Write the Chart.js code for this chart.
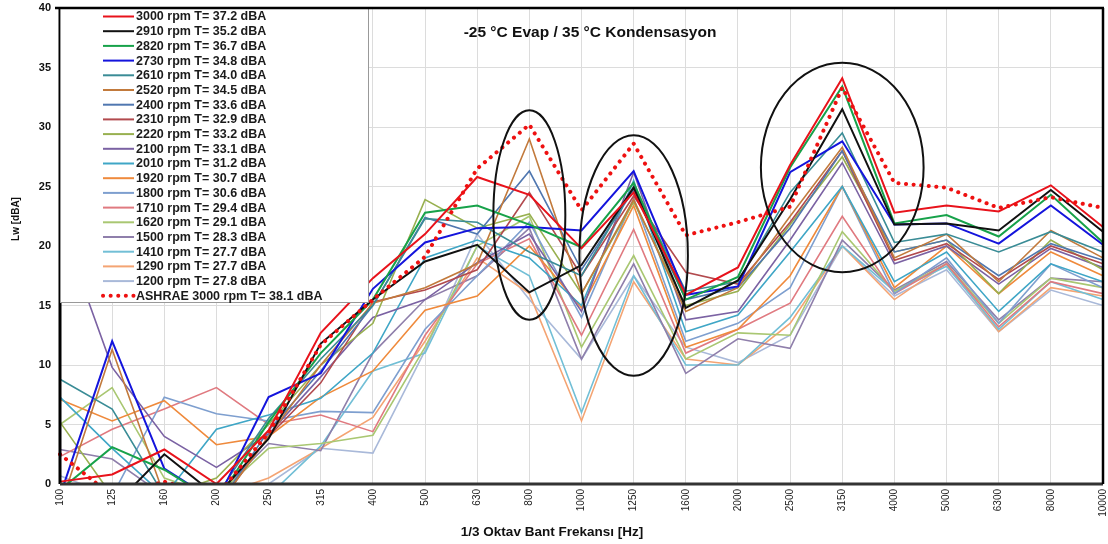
<!DOCTYPE html>
<html>
<head>
<meta charset="utf-8">
<script src="https://cdn.jsdelivr.net/npm/chart.js@4"></script>
<style>
  body { margin: 0; background: #fff; }
  #wrap { width: 1108px; height: 544px; position: relative; }
</style>
</head>
<body>
<div id="wrap"><canvas id="myChart"></canvas></div>
<script>
// frekans bantlari
const bands = ['100','125','160','200','250','315','400','500','630','800','1000','1250','1600','2000','2500','3150','4000','5000','6300','8000','10000'];

const rpm3000 = [0.2, 0.8, 2.9, 0, 4.5, 12.7, 17.3, 21.0, 25.8, 24.3, 19.8, 24.5, 15.9, 18.2, 26.8, 34.1, 22.8, 23.4, 22.9, 25.1, 21.6];
const rpm2910 = [-1.5, -2, 2.5, -1, 3.8, 11.8, 15.5, 18.7, 20.1, 16.1, 18.4, 24.9, 14.8, 17.1, 23.9, 31.5, 21.8, 21.9, 21.3, 24.7, 21.2];
const rpm2820 = [-0.5, 3.1, 1.2, -1.5, 5.2, 11.0, 15.5, 22.8, 23.4, 21.8, 19.9, 25.3, 15.5, 17.4, 26.6, 33.4, 21.9, 22.6, 20.8, 24.3, 20.3];
const rpm2730 = [-1, 12.0, 1.3, -1.5, 7.3, 9.3, 16.4, 20.3, 21.5, 21.6, 21.3, 26.3, 15.9, 16.6, 26.2, 28.8, 21.8, 21.9, 20.2, 23.4, 20.1];
const rpm2610 = [8.8, 6.3, -1, -1, 5.5, 10.5, 15.0, 22.3, 22.0, 19.5, 17.5, 25.0, 16.2, 17.0, 24.5, 29.5, 20.3, 21.0, 19.5, 21.2, 19.5];
const rpm2520 = [-2, 11.3, -1, -2, 4.0, 10.0, 15.2, 16.5, 18.5, 29.0, 16.0, 23.9, 14.5, 16.5, 22.5, 28.3, 19.0, 21.0, 17.0, 21.3, 19.0];
const rpm2400 = [-1, -2, -1, -2, 4.5, 9.5, 15.0, 22.4, 21.0, 26.3, 18.0, 24.7, 15.5, 16.5, 21.5, 28.0, 19.5, 20.5, 17.5, 20.2, 18.8];
const rpm2310 = [-1, -1, -1, -2, 4.0, 8.5, 15.3, 16.3, 18.0, 24.5, 17.5, 24.2, 17.8, 16.8, 22.0, 28.0, 18.8, 20.2, 17.2, 20.0, 18.5];
const rpm2220 = [5.2, -1, -1, 0.5, 5.0, 10.0, 13.5, 23.9, 21.5, 22.7, 16.0, 23.7, 15.0, 16.2, 21.8, 27.5, 19.5, 20.5, 16.0, 20.5, 18.0];
const rpm2100 = [22, 9.8, 4.0, 1.4, 4.2, 9.0, 14.0, 15.5, 18.6, 21.0, 14.5, 26.2, 13.8, 14.5, 20.5, 27.0, 18.5, 20.0, 16.8, 19.8, 18.2];
const rpm2010 = [7.3, 3.0, -1, 4.6, 5.8, 7.2, 11.0, 19.0, 20.5, 19.0, 15.0, 25.5, 12.8, 14.2, 19.5, 25.0, 17.0, 19.5, 14.5, 18.5, 17.0];
const rpm1920 = [7.1, 5.3, 7.0, 3.3, 4.0, 7.3, 9.5, 14.6, 15.8, 20.0, 14.8, 23.4, 11.5, 13.0, 17.5, 25.0, 16.5, 20.0, 16.0, 19.5, 17.5];
const rpm1800 = [-1, -1, 7.3, 5.9, 5.3, 6.1, 6.0, 13.0, 17.5, 22.0, 14.0, 24.0, 12.0, 13.5, 16.5, 25.0, 16.0, 19.0, 13.5, 18.5, 16.5];
const rpm1710 = [2.3, 4.6, 6.3, 8.1, 5.0, 5.8, 4.4, 12.5, 18.5, 20.6, 12.5, 21.4, 11.0, 13.0, 15.2, 22.5, 16.0, 18.5, 13.2, 17.0, 16.0];
const rpm1620 = [5.0, 8.1, 0.5, -1, 3.0, 3.4, 4.1, 11.5, 20.0, 22.5, 11.5, 19.2, 10.5, 12.7, 12.5, 21.2, 16.2, 18.5, 13.5, 17.3, 16.5];
const rpm1500 = [2.9, 2.1, -1, -1, 3.4, 2.8, 11.0, 15.5, 17.5, 21.5, 10.5, 18.5, 9.3, 12.2, 11.4, 20.5, 16.3, 18.7, 13.8, 17.3, 17.0];
const rpm1410 = [-1, -1, -1, -1, -1, 3.2, 9.5, 11.0, 20.0, 17.5, 6.0, 17.5, 10.0, 10.0, 14.0, 20.0, 16.2, 18.3, 13.0, 17.0, 15.5];
const rpm1290 = [-1, -1, -1, -1, 0.5, 3.0, 5.6, 12.0, 19.0, 16.0, 5.3, 17.0, 10.5, 10.0, 13.5, 20.0, 15.5, 18.5, 12.8, 16.5, 15.8];
const rpm1200 = [0.7, -1, -1, -1, 0, 3.0, 2.6, 11.2, 21.0, 15.5, 10.5, 17.5, 11.5, 10.2, 12.5, 20.0, 15.8, 18.0, 12.8, 16.3, 15.0];
const ashrae  = [2.5, -1, 0.2, -1, 4.3, 11.7, 15.5, 19.1, 26.5, 30.2, 23.0, 28.6, 20.9, 22.0, 23.3, 33.3, 25.3, 24.9, 23.2, 24.1, 23.2];

const seriesNames = [
  '3000 rpm T= 37.2 dBA', '2910 rpm T= 35.2 dBA', '2820 rpm T= 36.7 dBA', '2730 rpm T= 34.8 dBA',
  '2610 rpm T= 34.0 dBA', '2520 rpm T= 34.5 dBA', '2400 rpm T= 33.6 dBA', '2310 rpm T= 32.9 dBA',
  '2220 rpm T= 33.2 dBA', '2100 rpm T= 33.1 dBA', '2010 rpm T= 31.2 dBA', '1920 rpm T= 30.7 dBA',
  '1800 rpm T= 30.6 dBA', '1710 rpm T= 29.4 dBA', '1620 rpm T= 29.1 dBA', '1500 rpm T= 28.3 dBA',
  '1410 rpm T= 27.7 dBA', '1290 rpm T= 27.7 dBA', '1200 rpm T= 27.8 dBA', 'ASHRAE 3000 rpm T= 38.1 dBA'
];
const seriesValues = [rpm3000, rpm2910, rpm2820, rpm2730, rpm2610, rpm2520, rpm2400, rpm2310, rpm2220, rpm2100,
  rpm2010, rpm1920, rpm1800, rpm1710, rpm1620, rpm1500, rpm1410, rpm1290, rpm1200, ashrae];
const seriesColors = ['#e8121b', '#111111', '#17a24a', '#1414dc', '#3a8c96', '#c27a3c', '#5077b0', '#b24a4e',
  '#98b050', '#7b62a3', '#3fa6c6', '#ef8a3c', '#7e9fcf', '#e07a80', '#a9c772', '#8f7fab',
  '#72bfd6', '#f4a473', '#a9b9d9', '#ee1111'];

// elipsler: [bant indeksi, deger, yari genislik (bant), yari yukseklik (dBA)]
const ellipses = [[9, 22.6, 0.69, 8.8], [11, 19.2, 1.04, 10.1], [15, 26.6, 1.56, 8.8]];

const datasets = seriesNames.map((name, i) => {
  const isAshrae = i === seriesNames.length - 1;
  return {
    label: name,
    data: seriesValues[i],
    borderColor: seriesColors[i],
    backgroundColor: seriesColors[i],
    borderWidth: isAshrae ? 4 : (i < 4 ? 2 : 1.6),
    borderDash: isAshrae ? [0.1, 7.5] : [],
    borderCapStyle: isAshrae ? 'round' : 'butt',
    pointRadius: 0,
    tension: 0,
    order: isAshrae ? -1 : i
  };
});

// cerceve, elipsler, basliklar ve lejant
const overlay = {
  id: 'overlay',
  afterDatasetsDraw(chart) {
    const { ctx, chartArea: a, scales: { x, y } } = chart;
    ctx.save();

    const unitX = x.getPixelForValue(1) - x.getPixelForValue(0);
    ctx.strokeStyle = '#111';
    ctx.lineWidth = 2;
    ellipses.forEach(e => {
      const cx = x.getPixelForValue(e[0]);
      const cy = y.getPixelForValue(e[1]);
      const ry = y.getPixelForValue(0) - y.getPixelForValue(e[3]);
      ctx.beginPath();
      ctx.ellipse(cx, cy, e[2] * unitX, ry, 0, 0, Math.PI * 2);
      ctx.stroke();
    });

    // frame
    ctx.lineWidth = 3;
    ctx.strokeStyle = '#000';
    ctx.beginPath();
    ctx.moveTo(a.left, a.top); ctx.lineTo(a.left, a.bottom);
    ctx.stroke();
    ctx.strokeStyle = '#333';
    ctx.beginPath();
    ctx.moveTo(a.left, a.bottom); ctx.lineTo(a.right, a.bottom);
    ctx.stroke();
    ctx.strokeStyle = '#000';
    ctx.lineWidth = 2.5;
    ctx.beginPath();
    ctx.moveTo(a.right, a.bottom); ctx.lineTo(a.right, a.top);
    ctx.stroke();

    // basliklar
    ctx.fillStyle = '#111';
    ctx.font = 'bold 15.5px "Liberation Sans", Arial, sans-serif';
    ctx.textAlign = 'center';
    ctx.textBaseline = 'middle';
    ctx.fillText('-25 °C Evap / 35 °C Kondensasyon', 590, 33);
    ctx.font = 'bold 13.5px "Liberation Sans", Arial, sans-serif';
    ctx.fillText('1/3 Oktav Bant Frekansı [Hz]', 552, 532);
    ctx.save();
    ctx.translate(16, 219);
    ctx.rotate(-Math.PI / 2);
    ctx.font = 'bold 10px "Liberation Sans", Arial, sans-serif';
    ctx.fillText('Lw [dBA]', 0, 0);
    ctx.restore();

    // legend
    const lx = a.left, ly = a.top, lw = 308, lh = 294;
    ctx.fillStyle = '#fff';
    ctx.fillRect(lx, ly, lw, lh);
    ctx.strokeStyle = '#999';
    ctx.lineWidth = 1;
    ctx.strokeRect(lx + 0.5, ly + 0.5, lw, lh);
    ctx.font = 'bold 12.5px "Liberation Sans", Arial, sans-serif';
    ctx.textAlign = 'left';
    chart.data.datasets.forEach((ds, i) => {
      const ry = ly + 8.5 + i * 14.7;
      ctx.strokeStyle = ds.borderColor;
      ctx.lineWidth = i === chart.data.datasets.length - 1 ? 4 : 2;
      ctx.setLineDash(ds.borderDash);
      ctx.lineCap = ds.borderCapStyle;
      ctx.beginPath();
      ctx.moveTo(lx + 43, ry); ctx.lineTo(lx + 74, ry);
      ctx.stroke();
      ctx.setLineDash([]);
      ctx.lineCap = 'butt';
      ctx.fillStyle = '#1a1a1a';
      ctx.fillText(ds.label, lx + 76, ry + 0.5);
    });

    // top frame line
    ctx.strokeStyle = '#000';
    ctx.lineWidth = 2.5;
    ctx.beginPath();
    ctx.moveTo(a.left - 5, a.top); ctx.lineTo(a.right + 1, a.top);
    ctx.stroke();

    ctx.restore();
  }
};

document.addEventListener('DOMContentLoaded', function () {
  const ctx = document.getElementById('myChart').getContext('2d');
  Chart.defaults.font.family = '"Liberation Sans", Arial, sans-serif';
  Chart.defaults.color = '#111';

  new Chart(ctx, {
    type: 'line',
    data: { labels: bands, datasets: datasets },
    options: {
      responsive: true,
      maintainAspectRatio: false,
      animation: false,
      layout: { padding: { top: 8, right: 5, left: 0, bottom: 0 } },
      plugins: {
        legend: { display: false },
        tooltip: { enabled: false }
      },
      scales: {
        x: {
          offset: false,
          grid: { color: '#dcdcdc', lineWidth: 1, drawTicks: false },
          border: { display: false },
          ticks: { maxRotation: 90, minRotation: 90, padding: 5, autoSkip: false, font: { size: 10 }, color: '#222' },
          afterFit(scale) { scale.height = 60; scale.paddingLeft = 0; scale.paddingRight = 0; }
        },
        y: {
          min: 0,
          max: 40,
          grid: { color: '#dcdcdc', lineWidth: 1, drawTicks: false },
          border: { display: false },
          ticks: { stepSize: 5, padding: 9, font: { size: 11, weight: 'bold' }, color: '#111' },
          afterFit(scale) { scale.width = 60; scale.paddingTop = 0; scale.paddingBottom = 0; }
        }
      }
    },
    plugins: [overlay]
  });
});
</script>
</body>
</html>
